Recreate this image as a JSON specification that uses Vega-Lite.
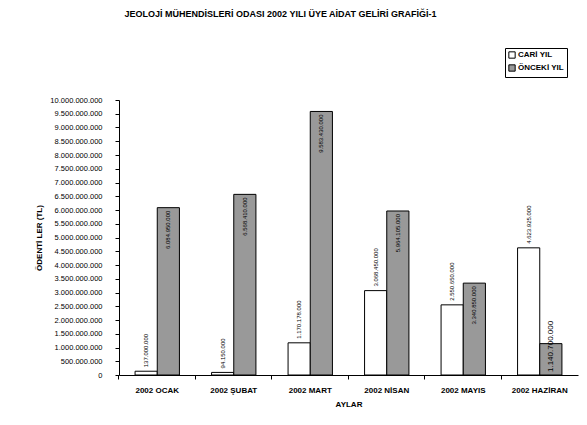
{
  "$schema": "https://vega.github.io/schema/vega-lite/v6.json",
  "width": 459,
  "height": 275,
  "autosize": {"type": "none"},
  "padding": {"left": 119, "top": 100, "right": 9, "bottom": 50},
  "background": "white",
  "config": {
    "locale": {"number": {"decimal": ",", "thousands": ".", "grouping": [3], "currency": ["", ""]}},
    "font": "Liberation Sans",
    "view": {"stroke": null}
  },
  "title": {
    "text": "JEOLOJİ MÜHENDİSLERİ ODASI 2002 YILI  ÜYE AİDAT GELİRİ GRAFİĞİ-1",
    "fontSize": 9,
    "fontWeight": "bold",
    "color": "black",
    "anchor": "middle",
    "dx": -68,
    "offset": 29
  },
  "data": {
    "values": [
      {"ay": "2002 OCAK", "seri": "CARİ YIL", "deger": 137000000},
      {"ay": "2002 OCAK", "seri": "ÖNCEKİ YIL", "deger": 6084950000},
      {"ay": "2002 ŞUBAT", "seri": "CARİ YIL", "deger": 94150000},
      {"ay": "2002 ŞUBAT", "seri": "ÖNCEKİ YIL", "deger": 6568410000},
      {"ay": "2002 MART", "seri": "CARİ YIL", "deger": 1170178000},
      {"ay": "2002 MART", "seri": "ÖNCEKİ YIL", "deger": 9583430000},
      {"ay": "2002 NİSAN", "seri": "CARİ YIL", "deger": 3068450000},
      {"ay": "2002 NİSAN", "seri": "ÖNCEKİ YIL", "deger": 5964105000},
      {"ay": "2002 MAYIS", "seri": "CARİ YIL", "deger": 2550650000},
      {"ay": "2002 MAYIS", "seri": "ÖNCEKİ YIL", "deger": 3340850000},
      {"ay": "2002 HAZİRAN", "seri": "CARİ YIL", "deger": 4623925000},
      {"ay": "2002 HAZİRAN", "seri": "ÖNCEKİ YIL", "deger": 1140700000}
    ]
  },
  "encoding": {
    "x": {
      "field": "ay",
      "type": "nominal",
      "sort": ["2002 OCAK", "2002 ŞUBAT", "2002 MART", "2002 NİSAN", "2002 MAYIS", "2002 HAZİRAN"],
      "scale": {"paddingInner": 0.42, "paddingOuter": 0.21},
      "axis": {
        "title": "AYLAR",
        "titleFontSize": 8,
        "titleFontWeight": "bold",
        "titleColor": "black",
        "titlePadding": 6,
        "labelAngle": 0,
        "labelFontSize": 8,
        "labelFontWeight": "bold",
        "labelColor": "black",
        "labelPadding": 7,
        "tickSize": 4,
        "tickColor": "black",
        "domainColor": "black",
        "bandPosition": -0.364,
        "grid": false
      }
    },
    "xOffset": {"field": "seri", "type": "nominal", "sort": ["CARİ YIL", "ÖNCEKİ YIL"]},
    "y": {
      "field": "deger",
      "type": "quantitative",
      "scale": {"domain": [0, 10000000000], "nice": false},
      "axis": {
        "title": "ÖDENTİ LER (TL)",
        "titleFontSize": 8,
        "titleFontWeight": "bold",
        "titleColor": "black",
        "titlePadding": 6,
        "format": ",d",
        "values": [0, 500000000, 1000000000, 1500000000, 2000000000, 2500000000, 3000000000, 3500000000, 4000000000, 4500000000, 5000000000, 5500000000, 6000000000, 6500000000, 7000000000, 7500000000, 8000000000, 8500000000, 9000000000, 9500000000, 10000000000],
        "labelFontSize": 7.5,
        "labelColor": "black",
        "labelPadding": 13,
        "tickSize": 4,
        "tickColor": "black",
        "domainColor": "black",
        "grid": false
      }
    }
  },
  "layer": [
    {
      "mark": {"type": "bar", "stroke": "black", "strokeWidth": 1},
      "encoding": {
        "fill": {
          "field": "seri",
          "type": "nominal",
          "scale": {"domain": ["CARİ YIL", "ÖNCEKİ YIL"], "range": ["white", "#999999"]},
          "legend": {
            "orient": "none",
            "legendX": 386,
            "legendY": -52,
            "title": null,
            "strokeColor": "black",
            "fillColor": "white",
            "padding": 3,
            "labelFontSize": 8,
            "labelFontWeight": "bold",
            "labelColor": "black",
            "symbolType": "square",
            "symbolSize": 40,
            "symbolStrokeColor": "black",
            "symbolStrokeWidth": 1,
            "rowPadding": 1,
            "labelOffset": 2
          }
        }
      }
    },
    {
      "transform": [{"filter": "datum.seri == 'CARİ YIL'"}],
      "mark": {"type": "text", "angle": 270, "align": "left", "baseline": "middle", "dx": 4, "fontSize": 6, "color": "black"},
      "encoding": {"text": {"field": "deger", "type": "quantitative", "format": ",d"}}
    },
    {
      "transform": [{"filter": "datum.seri == 'ÖNCEKİ YIL' && datum.ay != '2002 HAZİRAN'"}],
      "mark": {"type": "text", "angle": 270, "align": "right", "baseline": "middle", "dx": -3, "fontSize": 6, "color": "black"},
      "encoding": {"text": {"field": "deger", "type": "quantitative", "format": ",d"}}
    },
    {
      "transform": [{"filter": "datum.seri == 'ÖNCEKİ YIL' && datum.ay == '2002 HAZİRAN'"}],
      "mark": {"type": "text", "angle": 270, "align": "left", "baseline": "middle", "dx": 3, "fontSize": 8, "color": "black"},
      "encoding": {
        "y": {"datum": 0},
        "text": {"field": "deger", "type": "quantitative", "format": ",d"}
      }
    }
  ]
}
